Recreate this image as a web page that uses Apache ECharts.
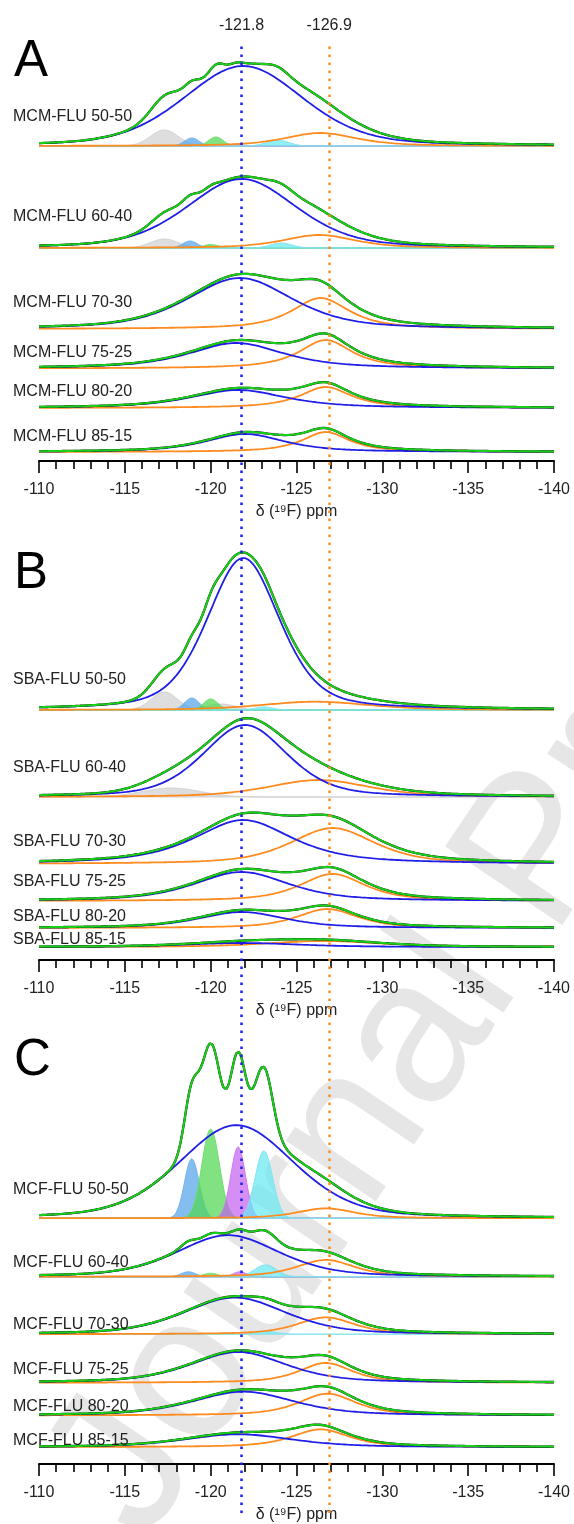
<!DOCTYPE html>
<html><head><meta charset="utf-8">
<script src="https://cdn.jsdelivr.net/npm/echarts/dist/echarts.min.js"></script>
<style>html,body{margin:0;padding:0;background:#fff}#c{width:574px;height:1524px}</style>
</head><body><div id="c"></div><script>
// ---------------- data ----------------
const refShifts = [-121.8, -126.9];
const refLabels = ['-121.8', '-126.9'];
const panelLetters = ['A', 'B', 'C'];
const axisTitle = 'δ (¹⁹F) ppm';
const watermark = 'Journal Pre-proof';

const labelsA = ['MCM-FLU 50-50','MCM-FLU 60-40','MCM-FLU 70-30','MCM-FLU 75-25','MCM-FLU 80-20','MCM-FLU 85-15'];
const offsetsA = [315, 213, 132, 92.5, 53, 9];
// [centre ppm, height, FWHM ppm, lorentzian fraction]
const blueA = [[-121.9,80,8.2,0.3],[-121.8,69,7.5,0.35],[-121.7,51,7.2,0.5],[-121.5,25.5,6.6,0.7],[-121.6,18,6.6,0.7],[-122.0,18,5.5,0.7]];
const orangeA = [[-126.4,13,5.0,0.6],[-126.3,13,5.0,0.6],[-126.4,31,4.0,0.8],[-126.7,28.5,3.7,0.9],[-126.7,21,3.6,0.9],[-126.7,20,3.3,0.9]];
// components: [kind, centre ppm, height, FWHM ppm]
const compsA = [
  [['gray',-117.3,16,1.9],['sky',-118.9,8,1.0],['lime',-120.3,9,1.0],['violet',-121.5,2,0.7],['aqua',-123.9,6,1.5]],
  [['gray',-117.3,9,1.9],['sky',-118.8,7,1.0],['lime',-120.0,3.5,1.0],['aqua',-124.1,5,1.5]],
  [],[],[],[]
];

const labelsB = ['SBA-FLU 50-50','SBA-FLU 60-40','SBA-FLU 70-30','SBA-FLU 75-25','SBA-FLU 80-20','SBA-FLU 85-15'];
const offsetsB = [250, 163, 96, 59, 32, 13];
const blueB = [[-121.9,152,5.0,0.4],[-122.0,72,5.8,0.4],[-121.9,44,6.8,0.7],[-121.8,29,6.5,0.6],[-121.8,16,6.0,0.6],[-121.8,4,8.0,0.5]];
const orangeB = [[-126.1,8.3,7.5,0.5],[-126.3,17,7.0,0.5],[-127.1,36,5.8,0.6],[-127.1,27,4.5,0.7],[-126.8,19,4.2,0.7],[-126.6,6,8.0,0.5]];
const compsB = [
  [['gray',-117.3,18,1.8],['gray',-120.6,6,2.0],['sky',-118.9,12,1.0],['lime',-120.0,11,1.0],['aqua',-123.1,3,1.2]],
  [['gray',-117.7,9,4.0]],
  [],[],[],[]
];

const labelsC = ['MCF-FLU 50-50','MCF-FLU 60-40','MCF-FLU 70-30','MCF-FLU 75-25','MCF-FLU 80-20','MCF-FLU 85-15'];
const offsetsC = [248, 189, 131, 82, 49, 17];
const blueC = [[-121.5,94,7.9,0.3],[-121.0,42,7.0,0.4],[-121.4,37,7.0,0.4],[-121.6,31,6.6,0.5],[-121.9,24,7.0,0.5],[-121.6,13,7.5,0.5]];
const orangeC = [[-126.7,10,4.0,0.6],[-126.7,17,4.0,0.6],[-126.7,17,4.0,0.6],[-126.7,20,3.7,0.7],[-126.8,22,4.0,0.7],[-126.4,18,4.0,0.7]];
const compsC = [
  [['sky',-118.9,60,1.0],['lime',-120.0,90,1.2],['violet',-121.6,72,1.0],['aqua',-123.1,68,1.2]],
  [['sky',-118.7,5,1.0],['lime',-120.0,3.5,1.0],['violet',-121.7,5,0.9],['aqua',-123.2,12,1.5]],
  [['aqua',-123.2,3,1.5]],
  [],[],[]
];

// ---------------- layout / style ----------------
const labelY = [[117,217,303,353,392,437],[680,768,842,882,917,940],[1190,1263,1325,1370,1407,1441]];
const letterY = [62, 574, 1061];
const gridTops = [31, 530, 1038];
const GRID_H = 430;
const FONT = '"Liberation Sans", Arial, sans-serif';
const C_BLUE = '#1e1ee6', C_ORANGE = '#ff8a1e', C_GREEN = '#18d018', C_BLACK = '#111111';
const compKinds = ['gray', 'sky', 'lime', 'violet', 'aqua'];
const compFill = ['rgba(195,195,195,0.55)', 'rgba(85,165,235,0.72)', 'rgba(80,215,80,0.72)', 'rgba(195,95,240,0.7)', 'rgba(100,232,242,0.7)'];
const compLine = ['rgba(205,205,205,0.9)', 'rgba(115,180,235,1)', 'rgba(110,222,110,1)', 'rgba(205,120,240,1)', 'rgba(130,228,238,1)'];

const panels = [
  {labels:labelsA, offsets:offsetsA, blue:blueA, orange:orangeA, comps:compsA},
  {labels:labelsB, offsets:offsetsB, blue:blueB, orange:orangeB, comps:compsB},
  {labels:labelsC, offsets:offsetsC, blue:blueC, orange:orangeC, comps:compsC}
];

// sampling grid of the ppm axis
const xs = [];
for (let i = 0; i <= 600; i++) xs.push(Math.round((-110 - i * 0.05) * 100) / 100);

function peak(x, c, h, w, eta) {
  const d = (x - c) / w;
  const L = 1 / (1 + 4 * d * d);
  const G = Math.exp(-4 * Math.LN2 * d * d);
  return h * ((eta || 0) * L + (1 - (eta || 0)) * G);
}
const pk = (x, p) => peak(x, p[0], p[1], p[2], p[3]);

const grids = [], xAxes = [], yAxes = [], series = [], graphics = [];

graphics.push({type: 'text', x: 98, y: 1512, rotation: 56 * Math.PI / 180, z: -10, silent: true,
  style: {text: watermark, fontSize: 205, fontFamily: FONT, fill: '#e6e6e6', align: 'left', verticalAlign: 'middle',
    textAlign: 'left', textVerticalAlign: 'middle'}});

panels.forEach((P, pi) => {
  grids.push({left: 39, right: 20, top: gridTops[pi], height: GRID_H});
  xAxes.push({
    type: 'value', gridIndex: pi, min: -140, max: -110, interval: 5, inverse: true,
    axisLine: {show: true, onZero: false, lineStyle: {color: '#000', width: 2}},
    axisTick: {show: true, length: 12, lineStyle: {color: '#000', width: 1.6}},
    minorTick: {show: true, splitNumber: 5, length: 8, lineStyle: {color: '#000', width: 1.6}},
    splitLine: {show: false},
    axisLabel: {fontSize: 16, color: '#222', margin: 21, fontFamily: FONT, showMinLabel: true, showMaxLabel: true},
    name: axisTitle, nameLocation: 'middle', nameGap: 43,
    nameTextStyle: {fontSize: 16, color: '#222', fontFamily: FONT}
  });
  yAxes.push({type: 'value', gridIndex: pi, min: 0, max: GRID_H, show: false});

  // shaded deconvolution components
  const compData = [];
  P.offsets.forEach((off, si) => {
    P.comps[si].forEach(cp => compData.push([cp[1], cp[2], cp[3], off, compKinds.indexOf(cp[0])]));
  });
  series.push({type: 'custom', xAxisIndex: pi, yAxisIndex: pi, z: 1, silent: true, clip: false,
    data: compData,
    renderItem: function (params, api) {
      const c = api.value(0), h = api.value(1), w = api.value(2), off = api.value(3), k = api.value(4);
      const pts = xs.map(x => api.coord([x, off + peak(x, c, h, w, 0)]));
      pts.push(api.coord([-140, off]));
      pts.push(api.coord([-110, off]));
      return {type: 'polygon', shape: {points: pts}, style: {fill: compFill[k], stroke: compLine[k], lineWidth: 1}};
    }
  });

  P.offsets.forEach((off, si) => {
    const comps = P.comps[si];
    const bl = P.blue[si], or = P.orange[si];
    const sum = xs.map(x => {
      let s = pk(x, bl) + pk(x, or);
      comps.forEach(cp => { s += peak(x, cp[1], cp[2], cp[3], 0); });
      return [x, off + s];
    });
    series.push({type: 'line', xAxisIndex: pi, yAxisIndex: pi, symbol: 'none', silent: true, z: 2,
      lineStyle: {color: C_ORANGE, width: 1.8}, data: xs.map(x => [x, off + pk(x, or)])});
    series.push({type: 'line', xAxisIndex: pi, yAxisIndex: pi, symbol: 'none', silent: true, z: 2,
      lineStyle: {color: C_BLUE, width: 1.8}, data: xs.map(x => [x, off + pk(x, bl)])});
    series.push({type: 'line', xAxisIndex: pi, yAxisIndex: pi, symbol: 'none', silent: true, z: 3,
      lineStyle: {color: C_BLACK, width: 2.3}, data: sum});
    series.push({type: 'line', xAxisIndex: pi, yAxisIndex: pi, symbol: 'none', silent: true, z: 4,
      lineStyle: {color: C_GREEN, width: 2.0}, data: sum});

    graphics.push({type: 'text', x: 13, y: labelY[pi][si], z: 50, silent: true,
      style: {text: P.labels[si], fontSize: 16, fontFamily: FONT, fill: '#222', verticalAlign: 'middle', textVerticalAlign: 'middle'}});
  });
  graphics.push({type: 'text', x: 14, y: letterY[pi], z: 50, silent: true,
    style: {text: panelLetters[pi], fontSize: 51, fontFamily: FONT, fill: '#000', verticalAlign: 'middle', textVerticalAlign: 'middle'}});
});

// overlay grid for the reference dotted lines
grids.push({left: 39, right: 20, top: 43, bottom: 11});
xAxes.push({type: 'value', gridIndex: 3, min: -140, max: -110, inverse: true, show: false});
yAxes.push({type: 'value', gridIndex: 3, min: 0, max: 1, show: false});
const refColors = [C_BLUE, C_ORANGE];
series.push({type: 'line', xAxisIndex: 3, yAxisIndex: 3, z: 20, silent: true, showSymbol: false,
  lineStyle: {opacity: 0}, data: [[refShifts[0], 0]],
  markLine: {symbol: 'none', silent: true, animation: false,
    lineStyle: {type: [2.5, 5.5], width: 2.5},
    label: {show: true, position: 'end', fontSize: 16, color: '#222', fontFamily: FONT, distance: 9},
    data: refShifts.map((v, i) => ({xAxis: v, lineStyle: {color: refColors[i], type: [2.5, 5.5], width: 2.5},
      label: {formatter: refLabels[i]}}))}
});

const chart = echarts.init(document.getElementById('c'), null, {renderer: 'canvas'});
chart.setOption({
  animation: false,
  backgroundColor: '#fff',
  grid: grids, xAxis: xAxes, yAxis: yAxes, series: series, graphic: graphics
});
</script></body></html>
